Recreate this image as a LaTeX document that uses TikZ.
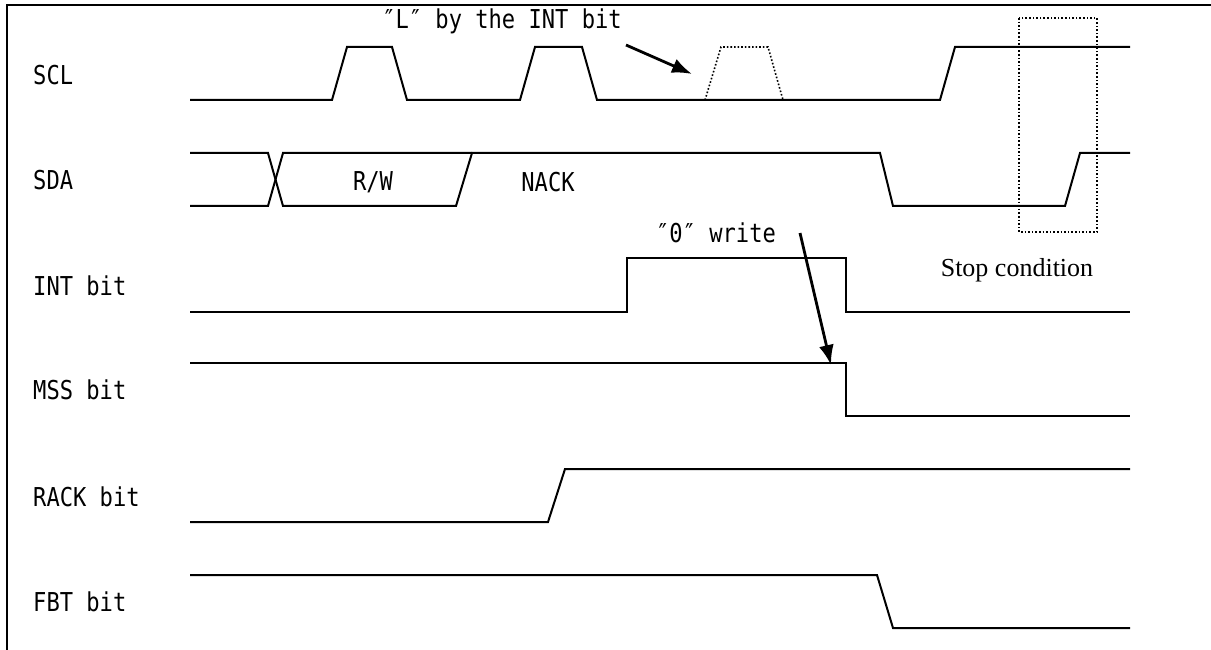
\documentclass[tikz,border=0pt]{standalone}
\usepackage{fontspec}
\setmainfont{Liberation Serif}
\newfontfamily\gothic[FakeStretch=0.85]{DejaVu Sans Mono}
\usetikzlibrary{arrows.meta}
\tikzset{
  sig/.style={line width=2pt,line join=miter},
  hint/.style={line width=1.6pt,dotted},
  lbl/.style={anchor=west,inner sep=0pt,font=\gothic\fontsize{26}{26}\selectfont},
  note/.style={inner sep=0pt,font=\gothic\fontsize{26}{26}\selectfont},
  pointer/.style={-{Latex[length=20pt,width=15pt]},line width=2.8pt}
}

\begin{document}
\begin{tikzpicture}[x=1pt,y=-1pt]
\useasboundingbox (0,0) rectangle (1211,650);
% frame
\draw[line width=1.3pt] (7,650) -- (7,5) -- (1211,5);
% signal names
\node[lbl] (scl) at (33,75) {SCL};
\node[lbl] (sda) at (33,180) {SDA};
\node[lbl] (int) at (33,286) {INT bit};
\node[lbl] (mss) at (33,390) {MSS bit};
\node[lbl] (rack) at (33,497) {RACK bit};
\node[lbl] (fbt) at (33,602) {FBT bit};
% waveforms
\draw[sig] (190,100) -- (332,100) -- (347,47) -- (392,47) -- (407,100) -- (520,100) -- (535,47) -- (582,47) -- (597,100) -- (940,100) -- (955,47) -- (1130,47);
\draw[hint] (705,100) -- (721,47) -- (768,47) -- (783,100);
\draw[sig] (190,153) -- (268,153) -- (283,206) -- (456,206) -- (472,153) -- (880,153) -- (893,206) -- (1065,206) -- (1080,153) -- (1130,153);
\draw[sig] (190,206) -- (268,206) -- (283,153) -- (472,153);
\draw[sig] (190,312) -- (627,312) -- (627,258) -- (846,258) -- (846,312) -- (1130,312);
\draw[sig] (190,363) -- (846,363) -- (846,416) -- (1130,416);
\draw[sig] (190,522) -- (548,522) -- (565,469) -- (1130,469);
\draw[sig] (190,575) -- (877,575) -- (893,628) -- (1130,628);
% stop condition window
\draw[hint] (1019,18) rectangle (1097,232);
% texts
\node[note] (rw) at (373,182) {R/W};
\node[note] (nack) at (548,182) {NACK};
\node[note] (byint) at (502,21) {″L″ by the INT bit};
\node[note] (zwrite) at (716,233) {″0″ write};
\node[inner sep=0pt,font=\fontsize{26}{26}\selectfont] (stop) at (1017,270) {Stop condition};
% pointers
\coordinate (ltail) at (626,45);
\coordinate (lhead) at (692,74);
\coordinate (ztail) at (800,233);
\coordinate (zhead) at (831,365);
\draw[pointer] (ltail) -- (lhead);
\draw[pointer] (ztail) -- (zhead);
\end{tikzpicture}
\end{document}
